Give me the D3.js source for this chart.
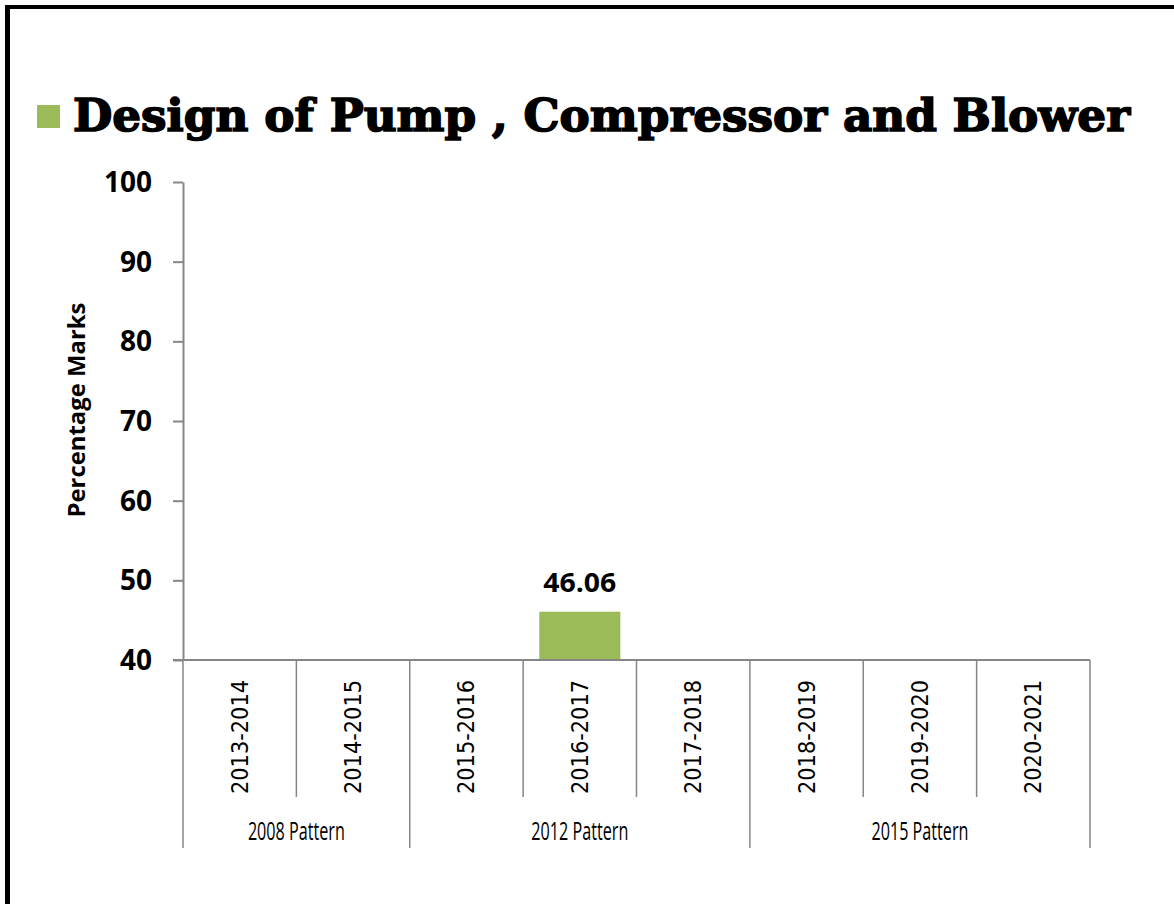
<!DOCTYPE html>
<html>
<head>
<meta charset="utf-8">
<script src="https://cdn.jsdelivr.net/npm/d3@7"></script>
<style>
	body { margin: 0; background: #fff; }
	svg { display: block; }
</style>
</head>
<body>
<svg id="canvas" width="1174" height="904"></svg>
<script>
var years = ["2013-2014", "2014-2015", "2015-2016", "2016-2017", "2017-2018", "2018-2019", "2019-2020", "2020-2021"];
var marks = [null, null, null, 46.06, null, null, null, null];
var patterns = ["2008 Pattern", "2012 Pattern", "2015 Pattern"];
var patternSizes = [2, 3, 3];
var yTicks = [40, 50, 60, 70, 80, 90, 100];

var svg = d3.select("#canvas");
var grey = "#868686";

// frame
svg.append("line").attr("x1", 7.5).attr("x2", 7.5).attr("y1", 5).attr("y2", 904)
	.attr("stroke", "#000").attr("stroke-width", 5);
svg.append("line").attr("x1", 5).attr("x2", 1174).attr("y1", 7).attr("y2", 7)
	.attr("stroke", "#000").attr("stroke-width", 4);

// title
svg.append("rect").attr("x", 37).attr("y", 105).attr("width", 23).attr("height", 23)
	.attr("fill", "#9bbb59");
svg.append("text")
	.attr("x", 73).attr("y", 131)
	.attr("font-family", "DejaVu Serif").attr("font-weight", "bold").attr("font-size", 44)
	.attr("stroke", "#000").attr("stroke-width", 1.6)
	.attr("textLength", 1057).attr("lengthAdjust", "spacingAndGlyphs")
	.text("Design of Pump , Compressor and Blower");

var x = d3.scaleBand().domain(years).range([183, 1090]);
var y = d3.scaleLinear().domain([40, 100]).range([660, 182]);

// y axis
var yAxis = svg.append("g").attr("transform", "translate(183,0)")
	.call(d3.axisLeft(y).tickValues(yTicks).tickSize(10).tickPadding(21).tickSizeOuter(0));
yAxis.select(".domain").attr("stroke", grey).attr("stroke-width", 2);
yAxis.selectAll(".tick line").attr("stroke", grey).attr("stroke-width", 2);
yAxis.selectAll(".tick text")
	.attr("font-family", "Open Sans").attr("font-weight", "bold").attr("font-size", 28).attr("fill", "#000")
	.attr("dy", "0.34em");

svg.append("text")
	.attr("transform", "translate(85,410) rotate(-90)")
	.attr("text-anchor", "middle")
	.attr("font-family", "Open Sans").attr("font-weight", "bold").attr("font-size", 23)
	.attr("textLength", 215).attr("lengthAdjust", "spacingAndGlyphs")
	.text("Percentage Marks");

// bars
var barW = x.bandwidth() * 0.715;
var rows = years.map(function(d, i) { return {year: d, v: marks[i]}; })
	.filter(function(d) { return d.v != null; });

svg.selectAll(".bar").data(rows).enter().append("rect")
	.attr("class", "bar")
	.attr("x", function(d) { return x(d.year) + (x.bandwidth() - barW) / 2; })
	.attr("y", function(d) { return y(d.v); })
	.attr("width", barW)
	.attr("height", function(d) { return y(40) - y(d.v); })
	.attr("fill", "#9bbb59");

svg.selectAll(".lbl").data(rows).enter().append("text")
	.attr("class", "lbl")
	.attr("x", function(d) { return x(d.year) + x.bandwidth() / 2; })
	.attr("y", function(d) { return y(d.v) - 20; })
	.attr("text-anchor", "middle")
	.attr("font-family", "Open Sans").attr("font-weight", "bold").attr("font-size", 27)
	.attr("textLength", 73).attr("lengthAdjust", "spacingAndGlyphs")
	.text(function(d) { return d.v.toFixed(2); });

// x axis line
svg.append("line").attr("x1", 173).attr("x2", 1090).attr("y1", y(40)).attr("y2", y(40))
	.attr("stroke", grey).attr("stroke-width", 2);

// category separators
var groupEdges = [0];
patternSizes.forEach(function(n, i) { groupEdges.push(groupEdges[i] + n); });

d3.range(years.length + 1).forEach(function(i) {
	var xx = i < years.length ? x(years[i]) : x.range()[1];
	var isGroup = groupEdges.indexOf(i) >= 0;
	svg.append("line")
		.attr("x1", xx).attr("x2", xx)
		.attr("y1", y(40)).attr("y2", isGroup ? 848 : 797)
		.attr("stroke", grey).attr("stroke-width", 1.5);
});

// year labels
svg.selectAll(".yr").data(years).enter().append("text")
	.attr("class", "yr")
	.attr("transform", function(d) {
		return "translate(" + (x(d) + x.bandwidth() / 2 + 8) + ",794) rotate(-90)";
	})
	.attr("font-family", "DejaVu Sans").attr("font-size", 23)
	.attr("textLength", 114).attr("lengthAdjust", "spacingAndGlyphs")
	.text(function(d) { return d; });

// pattern labels
svg.selectAll(".pat").data(patterns).enter().append("text")
	.attr("class", "pat")
	.attr("x", function(d, i) {
		var a = x(years[groupEdges[i]]);
		var b = groupEdges[i + 1] < years.length ? x(years[groupEdges[i + 1]]) : x.range()[1];
		return (a + b) / 2;
	})
	.attr("y", 840)
	.attr("text-anchor", "middle")
	.attr("font-family", "Open Sans").attr("font-size", 25)
	.attr("textLength", 97).attr("lengthAdjust", "spacingAndGlyphs")
	.text(function(d) { return d; });
</script>
</body>
</html>
